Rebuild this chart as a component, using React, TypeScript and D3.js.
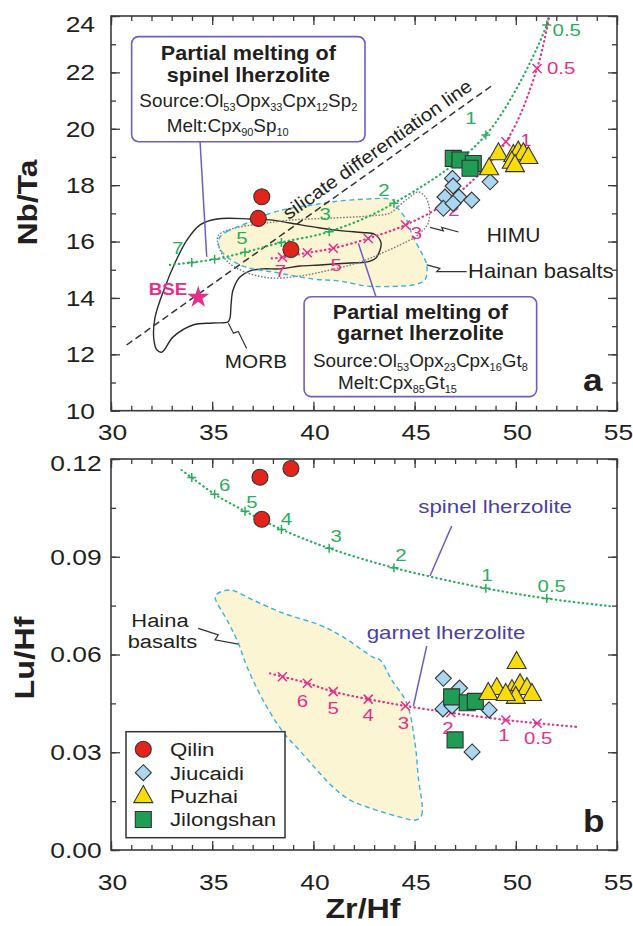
import { Component } from 'react';
import * as d3 from 'd3';

// samples, panel a: [Zr/Hf, Nb/Ta]
const qilin_a = [[37.45, 17.59], [37.28, 16.82], [38.89, 15.72]];
const jiucaidi_a = [[46.87, 18.24], [46.9, 17.97], [46.5, 17.58], [47.19, 17.58], [47.82, 17.47], [46.42, 17.18], [48.73, 18.12], [46.9, 17.35]];
const puzhai_a = [[49.14, 19.13], [48.68, 18.6], [49.88, 19.07], [50.12, 19.19], [50.37, 19.13], [50.62, 19.0], [49.8, 18.83], [49.96, 18.71]];
const jilongshan_a = [[46.91, 18.95], [47.24, 18.89], [47.9, 18.77], [47.74, 18.6]];

// samples, panel b: [Zr/Hf, Lu/Hf]
const qilin_b = [[37.36, 0.1144], [38.89, 0.1171], [37.45, 0.1015]];
const jiucaidi_b = [[46.42, 0.0527], [47.22, 0.0497], [47.05, 0.046], [46.4, 0.0433], [46.85, 0.0442], [48.68, 0.043], [47.84, 0.0301]];
const puzhai_b = [[50.04, 0.0577], [49.06, 0.0497], [48.64, 0.0482], [49.81, 0.0491], [50.21, 0.0509], [50.55, 0.0497], [50.8, 0.0479], [50.0, 0.047], [49.5, 0.0479]];
const jilongshan_b = [[46.83, 0.047], [47.6, 0.0452], [48.0, 0.0456], [47.0, 0.0338]];

// melting models (degree of melting, %)
const melt_f = ["7", "6", "5", "4", "3", "2", "1", "0.5"];
const spinel_zrhf = [33.99, 35.12, 36.62, 38.42, 40.78, 43.98, 48.52, 51.53];
const spinel_nbta = [15.26, 15.37, 15.62, 15.97, 16.35, 17.36, 19.78, 23.68];
const spinel_luhf = [0.1143, 0.1092, 0.104, 0.0984, 0.0926, 0.0866, 0.0803, 0.0772];
const garnet_zrhf = [38.47, 39.7, 40.98, 42.71, 44.55, 46.79, 49.51, 51.05];
const garnet_nbta = [15.44, 15.6, 15.76, 16.11, 16.59, 17.5, 19.54, 22.14];
const garnet_luhf = [0.0532, 0.0512, 0.0486, 0.0463, 0.0442, 0.0421, 0.0399, 0.0389];

// model lines run on past first / last marker
const spinel_a_ends = [[32.91, 15.17], [51.62, 24.0]];
const garnet_a_ends = [[37.94, 15.4], [51.65, 24.0]];
const spinel_b_ends = [[33.49, 0.1166], [54.82, 0.0747]];
const garnet_b_ends = [[37.86, 0.0542], [53.0, 0.0378]];

// fields, panel a
const morb_a = [[33.75, 16.05], [34.4, 16.59], [35.24, 16.8], [36.87, 16.8], [38.0, 16.76], [38.84, 16.66], [40.33, 16.48], [41.56, 16.37], [42.4, 16.32], [43.04, 16.25], [43.34, 15.96], [43.29, 15.7], [43.09, 15.42], [42.6, 15.27], [41.81, 15.24], [40.33, 15.17], [39.34, 15.13], [38.35, 15.03], [37.51, 15.03], [36.87, 14.96], [36.37, 14.74], [36.03, 14.28], [35.93, 13.75], [35.88, 13.29], [35.78, 13.15], [35.04, 13.11], [34.05, 13.04], [33.06, 12.61], [32.52, 12.08], [32.27, 12.15], [32.12, 12.51], [32.17, 13.29], [32.67, 14.39], [33.16, 15.24]];
const himu_a = [[35.29, 16.2], [36.13, 16.48], [37.36, 16.62], [38.84, 16.76], [40.82, 16.83], [42.8, 16.91], [43.78, 17.01], [44.28, 17.3], [44.77, 17.58], [45.17, 17.76], [45.51, 17.61], [45.71, 17.26], [45.71, 16.76], [45.56, 16.52], [45.02, 16.16], [44.28, 15.88], [43.29, 15.56], [42.3, 15.27], [40.82, 14.99], [39.34, 14.78], [37.86, 14.71], [36.62, 14.92], [35.78, 15.27], [35.39, 15.7]];
const hainan_a = [[35.39, 16.17], [35.72, 16.35], [36.87, 16.7], [37.86, 17.0], [38.84, 17.18], [39.98, 17.3], [40.97, 17.41], [42.45, 17.5], [43.93, 17.47], [44.18, 17.18], [44.61, 16.76], [44.92, 16.17], [45.35, 15.59], [45.6, 15.17], [45.51, 14.64], [44.92, 14.46], [44.28, 14.42], [42.65, 14.42], [41.31, 14.6], [39.98, 14.67], [38.0, 14.92], [37.02, 15.03], [36.37, 15.17], [35.53, 15.59], [35.3, 15.94]];

// field, panel b
const hainan_b = [[45.07, 0.0092], [45.35, 0.0107], [45.18, 0.0225], [45.02, 0.0328], [44.61, 0.0451], [43.87, 0.0522], [43.29, 0.0583], [42.94, 0.0592], [41.46, 0.0654], [40.33, 0.069], [38.5, 0.0727], [37.02, 0.0767], [35.88, 0.0798], [35.24, 0.0786], [35.14, 0.0776], [35.73, 0.0706], [36.27, 0.0638], [36.72, 0.0562], [37.51, 0.046], [38.5, 0.0362], [39.34, 0.0304], [40.18, 0.0245], [40.97, 0.0193], [41.81, 0.0153], [42.65, 0.0132], [44.28, 0.0101]];

// silicate differentiation line and bulk silicate earth
const silicate_line = [[30.77, 12.33], [48.86, 21.55]];
const bse = [34.31, 14.02];

// axes
const x_ticks = [30, 35, 40, 45, 50, 55];
const nbta_ticks = [10, 12, 14, 16, 18, 20, 22, 24];
const luhf_ticks = [0, 0.03, 0.06, 0.09, 0.12];
const legend_names = ["Qilin", "Jiucaidi", "Puzhai", "Jilongshan"];

// which model markers carry a label, with label offsets in px
const spinel_a_labels = [0, 2, 4, 5, 6, 7];
const spinel_a_offsets = [[-14, -14], [-3, -14], [-4, -18], [-10, -13], [-15, -17], [20, 5]];
const garnet_a_labels = [0, 2, 4, 5, 6, 7];
const garnet_a_offsets = [[-2, 14], [3, 17], [11, 8], [3, 11], [20, -2], [24, 0]];
const spinel_b_labels = [1, 2, 3, 4, 5, 6, 7];
const spinel_b_offsets = [[10, -9], [7, -9], [5, -10], [7, -12], [7, -13], [1, -13], [5, -12]];
const garnet_b_labels = [1, 2, 3, 4, 5, 6, 7];
const garnet_b_offsets = [[-5, 18], [0, 16], [0, 16], [-2, 17], [-3, 15], [-2, 15], [1, 15]];

const font = '"Liberation Sans", Arial, Helvetica, sans-serif';
const axis_color = "#3a3a3a";
const green = "#2BAE5E";
const pink = "#E62E8B";
const cyan = "#39B1E3";
const purple = "#6A5FC6";
const label_purple = "#4B3FA6";

export default class App extends Component {

    svg_node = null as SVGSVGElement | null;

    componentDidMount() {
        this.renderChart();
    }

    renderChart() {

        const svg = d3.select(this.svg_node);
        svg.selectAll("*").remove();

        const x_scale = d3.scaleLinear().domain([30, 55]).range([111, 617]);
        const y_scale_a = d3.scaleLinear().domain([10, 24]).range([410.7, 16]);
        const y_scale_b = d3.scaleLinear().domain([0, 0.12]).range([850, 459]);

        const x_minor = d3.range(30, 55.01, 1);
        const nbta_minor = d3.range(10, 24.01, 1);
        const luhf_minor = d3.range(0, 0.1201, 0.015);

        // text helper, glyphs in the figure are a little wide so stretch them
        const addText = (g, parts, x, y, o) => {
            let tf = "translate(" + x + "," + y + ")";
            if (o.rotate) tf += " rotate(" + o.rotate + ")";
            tf += " scale(" + (o.sx || 1.15) + ",1)";
            const t = g.append("text")
                .attr("transform", tf)
                .attr("text-anchor", o.anchor || "start")
                .attr("fill", o.color || "#231f20")
                .style("font-family", font)
                .style("font-size", o.size + "px")
                .style("font-weight", o.bold ? "bold" : "normal");
            if (typeof parts === "string") {
                t.text(parts);
                return t;
            }
            let down = false;
            parts.forEach(function(p) {
                const ts = t.append("tspan").text(p[0]);
                if (p[1]) {
                    ts.style("font-size", (o.size * 0.58) + "px");
                    if (!down) { ts.attr("dy", 4); down = true; }
                } else if (down) {
                    ts.attr("dy", -4);
                    down = false;
                }
            });
            return t;
        };

        const polyline = (g, x, y, pts, color, width) => {
            g.append("path")
                .attr("d", d3.line().x(d => x(d[0])).y(d => y(d[1]))(pts))
                .attr("fill", "none")
                .attr("stroke", color)
                .attr("stroke-width", width);
        };

        // frame, inside ticks and tick labels
        const drawFrame = (g, y_scale, y_major, y_minor, y_fmt, opts) => {
            const [left, right] = x_scale.range();
            const [bottom, top] = y_scale.range();
            const addTicks = (axis, tx, ty, size) => {
                g.append("g")
                    .attr("transform", "translate(" + tx + "," + ty + ")")
                    .call(axis.tickSize(-size).tickSizeOuter(0).tickFormat(() => ""))
                    .call(a => a.select(".domain").remove())
                    .selectAll("line")
                    .attr("stroke", axis_color)
                    .attr("stroke-width", 1.3);
            };
            [[x_minor, 5], [x_ticks, 9]].forEach(function(t) {
                addTicks(d3.axisBottom(x_scale).tickValues(t[0]), 0, bottom, t[1]);
                addTicks(d3.axisTop(x_scale).tickValues(t[0]), 0, top, t[1]);
            });
            [[y_minor, 5], [y_major, 9]].forEach(function(t) {
                addTicks(d3.axisLeft(y_scale).tickValues(t[0]), left, 0, t[1]);
                addTicks(d3.axisRight(y_scale).tickValues(t[0]), right, 0, t[1]);
            });
            g.append("rect")
                .attr("x", left).attr("y", top)
                .attr("width", right - left).attr("height", bottom - top)
                .attr("fill", "none")
                .attr("stroke", axis_color)
                .attr("stroke-width", 1.6);

            x_ticks.forEach(function(v) {
                addText(g, String(v), x_scale(v) + 1.5, bottom + opts.x_label_dy, { size: 22, anchor: "middle", sx: 1.2 });
            });
            y_major.forEach(function(v, i) {
                const shift = i === y_major.length - 1 ? opts.top_shift : 0;
                addText(g, y_fmt(v), left - opts.y_label_dx, y_scale(v) + 7.9 + shift, { size: 22, anchor: "end", sx: 1.2 });
            });
        };

        // closed outline of a compositional field
        const drawField = (g, y_scale, pts, stroke, dash, fill) => {
            const line = d3.line()
                .x(d => x_scale(d[0]))
                .y(d => y_scale(d[1]))
                .curve(d3.curveCatmullRomClosed.alpha(0.5));
            g.append("path")
                .attr("d", line(pts))
                .attr("fill", fill || "none")
                .attr("stroke", stroke)
                .attr("stroke-width", 1.4)
                .attr("stroke-dasharray", dash);
        };

        const plus_glyph = "M-4.5,0H4.5M0,-4.5V4.5";
        const cross_glyph = "M-4.5,-4.5L4.5,4.5M-4.5,4.5L4.5,-4.5";

        // melting model curve with its markers and labels
        const drawModel = (g, y_scale, zr, ratio, ends, color, glyph, labelled, offsets) => {
            const pts = zr.map((v, i) => [v, ratio[i]]);
            const line = d3.line()
                .x(d => x_scale(d[0]))
                .y(d => y_scale(d[1]))
                .curve(d3.curveCatmullRom.alpha(0.5));
            g.append("path")
                .attr("d", line([ends[0]].concat(pts, [ends[1]])))
                .attr("fill", "none")
                .attr("stroke", color)
                .attr("stroke-width", 2.2)
                .attr("stroke-linecap", "round")
                .attr("stroke-dasharray", "0.5,4");
            g.selectAll(null)
                .data(pts).enter()
                .append("path")
                .attr("d", glyph)
                .attr("transform", d => "translate(" + x_scale(d[0]) + "," + y_scale(d[1]) + ")")
                .attr("fill", "none")
                .attr("stroke", color)
                .attr("stroke-width", 1.5);
            labelled.forEach(function(idx, k) {
                addText(g, melt_f[idx], x_scale(pts[idx][0]) + offsets[k][0], y_scale(pts[idx][1]) + offsets[k][1] + 6,
                    { size: 17, anchor: "middle", color: color, sx: 1.2 });
            });
        };

        // sample symbols
        const marker_styles = {
            "Qilin": { fill: "#E3241B", path: null },
            "Jiucaidi": { fill: "#A9D6F0", path: "M0,-8L8,0L0,8L-8,0Z" },
            "Puzhai": { fill: "#F9DD0A", path: "M0,-10.5L9.5,6.5H-9.5Z" },
            "Jilongshan": { fill: "#1F9D55", path: "M-8,-8H8V8H-8Z" }
        };
        const drawSymbol = (g, name, px, py) => {
            const st = marker_styles[name];
            const s = st.path === null
                ? g.append("circle").attr("cx", px).attr("cy", py).attr("r", 8)
                : g.append("path").attr("d", st.path).attr("transform", "translate(" + px + "," + py + ")");
            s.attr("fill", st.fill).attr("stroke", "#333").attr("stroke-width", 1.1);
        };
        const drawSamples = (g, y_scale, sets) => {
            sets.forEach(function(set) {
                set[1].forEach(function(d) {
                    drawSymbol(g, set[0], x_scale(d[0]), y_scale(d[1]));
                });
            });
        };

        // rounded annotation box with model text
        const drawBox = (g, corner0, corner1, lines) => {
            const x0 = x_scale(corner0[0]), y0 = y_scale_a(corner0[1]);
            const x1 = x_scale(corner1[0]), y1 = y_scale_a(corner1[1]);
            g.append("rect")
                .attr("x", x0).attr("y", y0)
                .attr("width", x1 - x0).attr("height", y1 - y0)
                .attr("rx", 7)
                .attr("fill", "#fff")
                .attr("stroke", purple)
                .attr("stroke-width", 1.6);
            lines.forEach(function(l) {
                const lx = l.left ? x0 + l.left : (x0 + x1) / 2;
                addText(g, l.text, lx, y0 + l.dy, { size: l.size, bold: l.bold, anchor: l.left ? "start" : "middle", sx: l.sx });
            });
        };

        // ---------------- panel a ----------------
        const g_a = svg.append("g");
        drawFrame(g_a, y_scale_a, nbta_ticks, nbta_minor, d3.format("d"), { x_label_dy: 29.3, y_label_dx: 16, top_shift: 7.7 });

        drawField(g_a, y_scale_a, hainan_a, "none", null, "#FBF5D3");
        drawField(g_a, y_scale_a, morb_a, "#2b2b2b", null);
        drawField(g_a, y_scale_a, himu_a, "#7a7a7a", "1.6,1.6");
        drawField(g_a, y_scale_a, hainan_a, cyan, "5,3.5");

        // silicate differentiation line
        g_a.append("path")
            .attr("d", d3.line().x(d => x_scale(d[0])).y(d => y_scale_a(d[1]))(silicate_line))
            .attr("fill", "none")
            .attr("stroke", "#333")
            .attr("stroke-width", 1.5)
            .attr("stroke-dasharray", "7,4");
        const p0 = [x_scale(silicate_line[0][0]), y_scale_a(silicate_line[0][1])];
        const p1 = [x_scale(silicate_line[1][0]), y_scale_a(silicate_line[1][1])];
        const theta = Math.atan2(p1[1] - p0[1], p1[0] - p0[0]);
        const slope = (silicate_line[1][1] - silicate_line[0][1]) / (silicate_line[1][0] - silicate_line[0][0]);
        const t_x = 39.0;
        const t_y = silicate_line[0][1] + (t_x - silicate_line[0][0]) * slope;
        addText(g_a, "silicate differentiation line",
            x_scale(t_x) + Math.sin(theta) * 8, y_scale_a(t_y) - Math.cos(theta) * 8,
            { size: 18.5, rotate: theta * 180 / Math.PI, sx: 1.1 });

        drawModel(g_a, y_scale_a, spinel_zrhf, spinel_nbta, spinel_a_ends, green, plus_glyph, spinel_a_labels, spinel_a_offsets);
        drawModel(g_a, y_scale_a, garnet_zrhf, garnet_nbta, garnet_a_ends, pink, cross_glyph, garnet_a_labels, garnet_a_offsets);

        // BSE
        g_a.append("path")
            .attr("d", d3.symbol(d3.symbolStar, 150)())
            .attr("transform", "translate(" + x_scale(bse[0]) + "," + y_scale_a(bse[1]) + ")")
            .attr("fill", pink);
        addText(g_a, "BSE", x_scale(32.82), y_scale_a(14.1), { size: 17, bold: true, anchor: "middle", color: pink, sx: 1.1 });

        // field labels and leaders
        polyline(g_a, x_scale, y_scale_a, [[35.8, 13.1], [36.05, 12.75], [36.29, 12.81], [36.7, 12.21]], "#333", 1.2);
        addText(g_a, "MORB", x_scale(37.16), y_scale_a(11.5), { size: 19, anchor: "middle", sx: 1.09 });
        polyline(g_a, x_scale, y_scale_a, [[45.76, 16.5], [46.42, 16.38], [46.34, 16.5], [47.17, 16.34]], "#333", 1.2);
        addText(g_a, "HIMU", x_scale(48.56), y_scale_a(15.99), { size: 20, sx: 1.05 });
        polyline(g_a, x_scale, y_scale_a, [[45.6, 15.17], [46.25, 15.05], [46.09, 14.93], [47.57, 14.93]], "#333", 1.2);
        addText(g_a, "Hainan basalts", x_scale(47.64), y_scale_a(14.7), { size: 20, sx: 1.1 });

        // model leaders
        polyline(g_a, x_scale, y_scale_a, [[34.4, 19.54], [34.73, 15.46]], purple, 1.5);
        polyline(g_a, x_scale, y_scale_a, [[43.09, 14.04], [42.22, 15.94]], purple, 1.5);

        drawSamples(g_a, y_scale_a, [["Jiucaidi", jiucaidi_a], ["Jilongshan", jilongshan_a], ["Puzhai", puzhai_a], ["Qilin", qilin_a]]);

        drawBox(g_a, [31.02, 23.27], [42.55, 19.54], [
            { text: "Partial melting of", bold: true, size: 20, dy: 23.3, sx: 1.08 },
            { text: "spinel lherzolite", bold: true, size: 20, dy: 45, sx: 1.08 },
            { text: [["Source:Ol"], ["53", 1], ["Opx"], ["33", 1], ["Cpx"], ["12", 1], ["Sp"], ["2", 1]], size: 17.5, dy: 70, sx: 1.08 },
            { text: [["Melt:Cpx"], ["90", 1], ["Sp"], ["10", 1]], size: 17.5, dy: 95, left: 35, sx: 1.08 }
        ]);
        drawBox(g_a, [39.54, 14.04], [51.03, 10.5], [
            { text: "Partial melting of", bold: true, size: 20, dy: 22.3, sx: 1.08 },
            { text: "garnet lherzolite", bold: true, size: 20, dy: 43.6, sx: 1.08 },
            { text: [["Source:Ol"], ["53", 1], ["Opx"], ["23", 1], ["Cpx"], ["16", 1], ["Gt"], ["8", 1]], size: 17.5, dy: 70, sx: 1.08 },
            { text: [["Melt:Cpx"], ["85", 1], ["Gt"], ["15", 1]], size: 17.5, dy: 92.6, left: 34, sx: 1.08 }
        ]);

        addText(g_a, "a", 583, 390.7, { size: 32, bold: true, sx: 1.1 });
        addText(g_a, "Nb/Ta", 36.5, 202.5, { size: 28, bold: true, anchor: "middle", rotate: -90, sx: 1.13 });

        // ---------------- panel b ----------------
        const g_b = svg.append("g");
        drawFrame(g_b, y_scale_b, luhf_ticks, luhf_minor, d3.format(".2f"), { x_label_dy: 40, y_label_dx: 9.3, top_shift: 4 });

        drawField(g_b, y_scale_b, hainan_b, cyan, "5,3.5", "#FBF5D3");

        drawModel(g_b, y_scale_b, spinel_zrhf, spinel_luhf, spinel_b_ends, green, plus_glyph, spinel_b_labels, spinel_b_offsets);
        drawModel(g_b, y_scale_b, garnet_zrhf, garnet_luhf, garnet_b_ends, pink, cross_glyph, garnet_b_labels, garnet_b_offsets);

        polyline(g_b, x_scale, y_scale_b, [[46.83, 0.0994], [45.76, 0.0841]], purple, 1.5);
        addText(g_b, "spinel lherzolite", x_scale(45.18), y_scale_b(0.1035), { size: 18.6, color: label_purple, sx: 1.2 });
        polyline(g_b, x_scale, y_scale_b, [[45.6, 0.0626], [44.94, 0.0442]], purple, 1.5);
        addText(g_b, "garnet lherzolite", x_scale(42.63), y_scale_b(0.0647), { size: 18.6, color: label_purple, sx: 1.2 });

        polyline(g_b, x_scale, y_scale_b, [[34.31, 0.068], [35.3, 0.066], [35.14, 0.0645], [36.29, 0.0632]], "#333", 1.2);
        addText(g_b, "Haina", x_scale(32.42), y_scale_b(0.0685), { size: 18.6, anchor: "middle", sx: 1.18 });
        addText(g_b, "basalts", x_scale(32.54), y_scale_b(0.0619), { size: 18.6, anchor: "middle", sx: 1.18 });

        drawSamples(g_b, y_scale_b, [["Jiucaidi", jiucaidi_b], ["Jilongshan", jilongshan_b], ["Puzhai", puzhai_b], ["Qilin", qilin_b]]);

        // legend
        const legend_x = x_scale.range()[0] + 15;
        const legend_y = y_scale_b.range()[0] - 118.3;
        g_b.append("rect")
            .attr("x", legend_x).attr("y", legend_y)
            .attr("width", 159).attr("height", 106)
            .attr("fill", "#fff")
            .attr("stroke", "#333")
            .attr("stroke-width", 1.5);
        legend_names.forEach(function(name, i) {
            const ry = legend_y + 17.6 + i * 23.4;
            drawSymbol(g_b, name, legend_x + 17.3, ry);
            addText(g_b, name, legend_x + 44, ry + 6.8, { size: 19, sx: 1.17 });
        });

        addText(g_b, "b", 583, 831.7, { size: 32, bold: true, sx: 1.1 });
        addText(g_b, "Lu/Hf", 33.5, 658, { size: 28, bold: true, anchor: "middle", rotate: -90, sx: 1.16 });
        addText(g_b, "Zr/Hf", 363, 918, { size: 28, bold: true, anchor: "middle", sx: 1.15 });
    }

    render() {
        return (
            <svg
                ref={(el) => { this.svg_node = el; }}
                width={633}
                height={926}
                style={{ position: "absolute", left: 0, top: 0, background: "#fff" }}
            />
        );
    }

}
